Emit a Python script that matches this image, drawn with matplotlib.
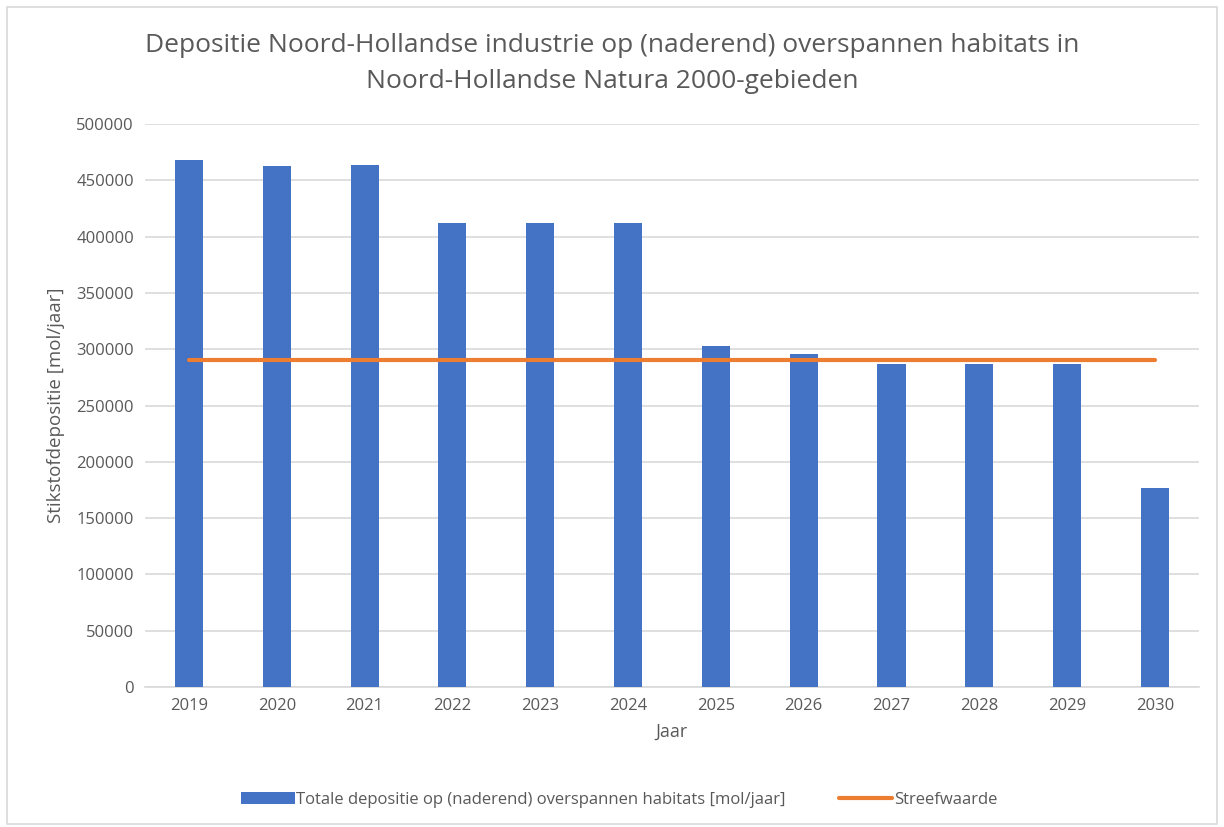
import matplotlib.pyplot as plt
from matplotlib.patches import Rectangle

# data
jaren = ["2019", "2020", "2021", "2022", "2023", "2024",
         "2025", "2026", "2027", "2028", "2029", "2030"]
depositie = [468000, 463000, 464000, 412000, 412000, 412000,
             303000, 295500, 287000, 287000, 287000, 177000]
streefwaarde = [290500] * len(jaren)

plt.rcParams["font.family"] = ["Open Sans", "DejaVu Sans"]

fig = plt.figure(figsize=(12.24, 8.27), dpi=100)
ax = fig.add_axes([0.1185, 0.1693, 0.861, 0.6807])

# chart border
fig.patches.append(Rectangle((0.006, 0.004), 0.988, 0.988, transform=fig.transFigure,
                             fill=False, edgecolor="#d9d9d9", linewidth=1.2))

x = range(len(jaren))
bars = ax.bar(x, depositie, width=0.32, color="#4472c4", zorder=3,
              label="Totale depositie op (naderend) overspannen habitats [mol/jaar]")
line, = ax.plot(x, streefwaarde, color="#ed7d31", linewidth=3, zorder=4,
                solid_capstyle="round", label="Streefwaarde")

ax.set_xlim(-0.5, len(jaren) - 0.5)
ax.set_ylim(0, 500000)
ax.set_yticks(range(0, 500001, 50000))
ax.set_xticks(list(x))
ax.set_xticklabels(jaren)
ax.grid(axis="y", color="#d9d9d9", linewidth=1.2, zorder=0)
for s in ["top", "right", "left"]:
    ax.spines[s].set_visible(False)
ax.spines["bottom"].set_color("#d9d9d9")
ax.spines["bottom"].set_linewidth(1.2)
ax.tick_params(axis="both", length=0, colors="#595959", labelsize=12, pad=8)

ax.set_xlabel("Jaar", fontsize=13, color="#595959", labelpad=6)
ax.set_ylabel("Stikstofdepositie [mol/jaar]", fontsize=13.5, color="#595959", labelpad=8)

fig.text(0.5, 0.945, "Depositie Noord-Hollandse industrie op (naderend) overspannen habitats in",
         ha="center", va="center", fontsize=19, color="#595959")
fig.text(0.5, 0.902, "Noord-Hollandse Natura 2000-gebieden",
         ha="center", va="center", fontsize=19, color="#595959")

ax.legend(handles=[bars, line], loc="center", bbox_to_anchor=(0.45, -0.2), ncol=2,
          frameon=False, fontsize=12, labelcolor="#595959", columnspacing=3.2,
          handlelength=3.2, handletextpad=0.1)

fig.savefig("out.png", dpi=100)
